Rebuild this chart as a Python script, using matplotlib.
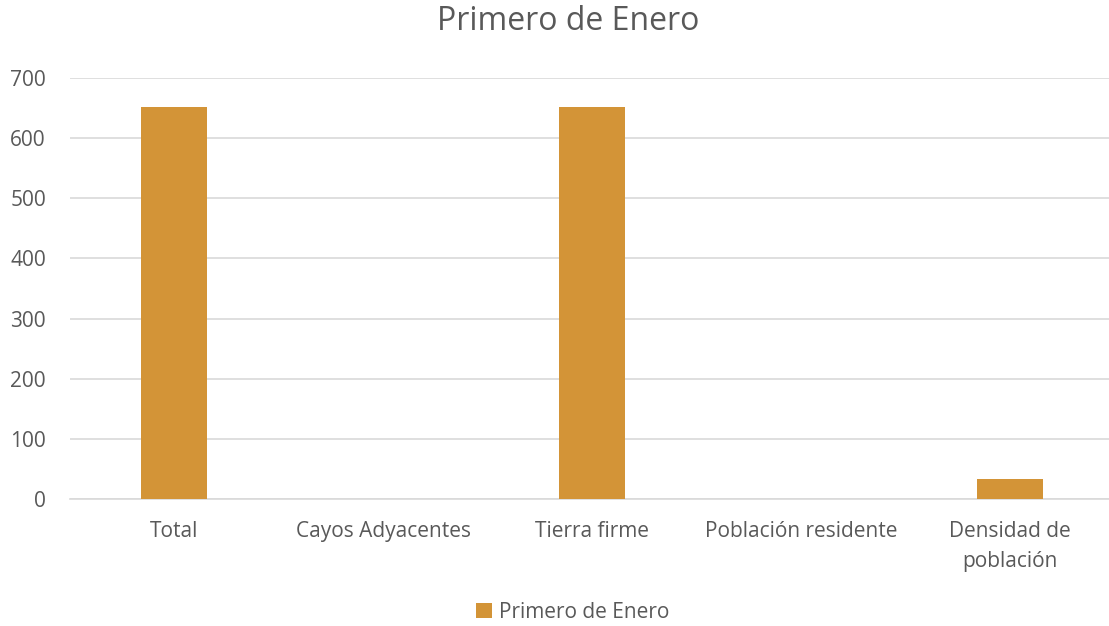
import matplotlib
matplotlib.use("Agg")
import matplotlib.pyplot as plt
import numpy as np

# datos del gráfico
categorias = ["Total", "Cayos Adyacentes", "Tierra firme", "Población residente", "Densidad de\npoblación"]
valores = [652, 0, 652, 0, 34]
serie = "Primero de Enero"

plt.rcParams["font.family"] = ["Open Sans", "DejaVu Sans"]
texto = "#595959"

fig = plt.figure(figsize=(11.09, 6.26), dpi=100)
ax = fig.add_axes([69.5 / 1109, 1 - 499 / 626, 1045 / 1109, 421 / 626])

x = np.arange(len(categorias))
ax.bar(x, valores, width=0.316, color="#D39437", label=serie, zorder=3)

ax.set_xlim(-0.5, len(categorias) - 0.5)
ax.set_ylim(0, 700)
ax.set_yticks(range(0, 701, 100))
ax.set_xticks(x)
ax.set_xticklabels(categorias, linespacing=1.55)
ax.tick_params(axis="both", length=0, labelsize=15, colors=texto)
ax.tick_params(axis="x", pad=16)
ax.tick_params(axis="y", pad=17)
ax.grid(axis="y", color="#D9D9D9", linewidth=1.2, zorder=0)
for s in ["top", "right", "left"]:
    ax.spines[s].set_visible(False)
ax.spines["bottom"].set_color("#D9D9D9")
ax.spines["bottom"].set_linewidth(1.2)

fig.text(568 / 1109, 1 - 22 / 626, serie, ha="center", va="center", fontsize=23, color=texto)
fig.legend(loc="center", bbox_to_anchor=(573 / 1109, 1 - 612 / 626), frameon=False,
           fontsize=15, labelcolor=texto, handlelength=0.75, handleheight=0.75,
           handletextpad=0.35)

fig.savefig("out.png", dpi=100)
